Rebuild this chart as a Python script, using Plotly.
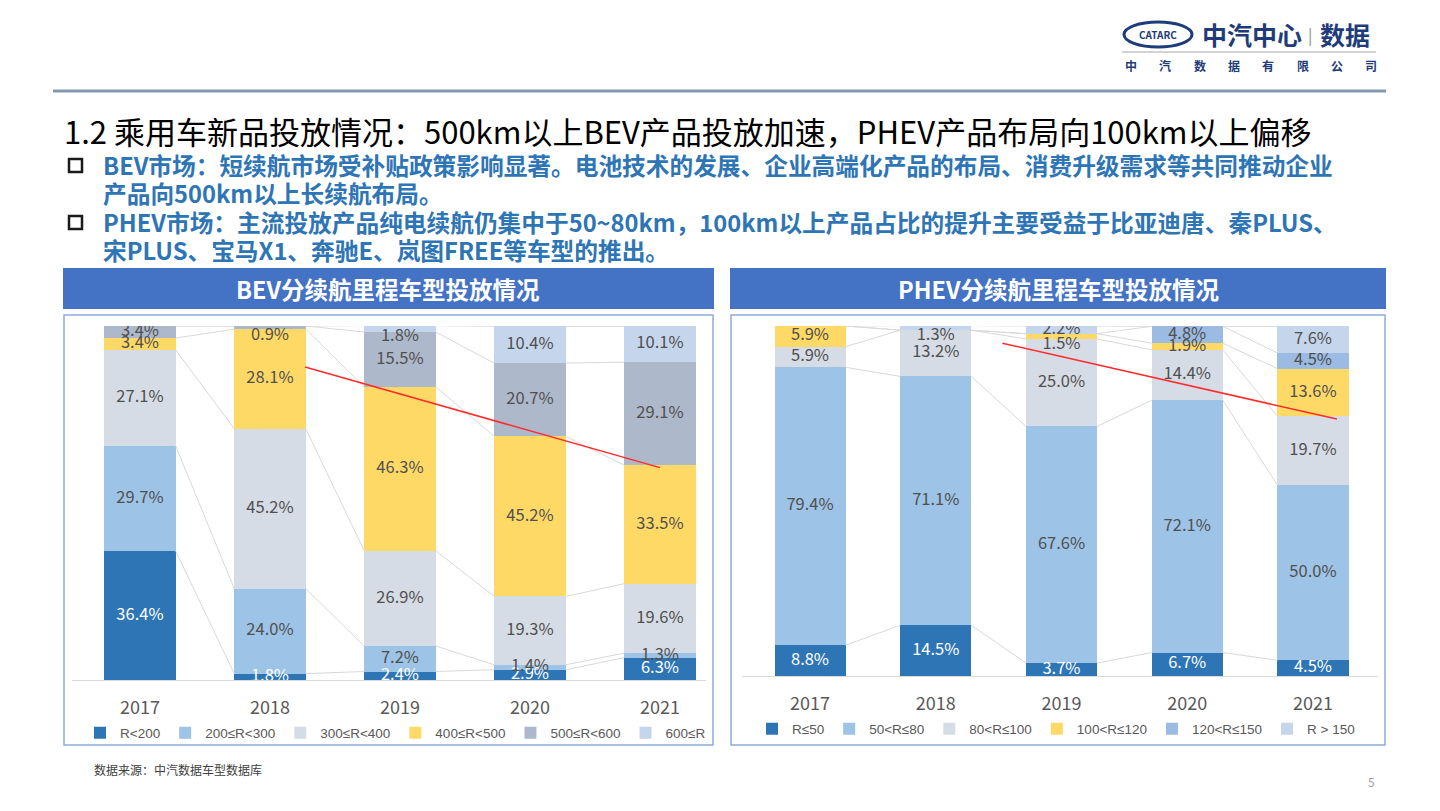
import plotly.graph_objects as go

W, H = 1440, 811

years = ["2017", "2018", "2019", "2020", "2021"]

bev_names = ["R<200", "200≤R<300", "300≤R<400", "400≤R<500", "500≤R<600", "600≤R"]
bev_r_lt200 = [36.4, 1.8, 2.4, 2.9, 6.3]
bev_r_200_300 = [29.7, 24.0, 7.2, 1.4, 1.3]
bev_r_300_400 = [27.1, 45.2, 26.9, 19.3, 19.6]
bev_r_400_500 = [3.4, 28.1, 46.3, 45.2, 33.5]
bev_r_500_600 = [3.4, 0.9, 15.5, 20.7, 29.1]
bev_r_ge600 = [0.0, 0.0, 1.8, 10.4, 10.1]
bev_values = [bev_r_lt200, bev_r_200_300, bev_r_300_400, bev_r_400_500, bev_r_500_600, bev_r_ge600]

phev_names = ["R≤50", "50<R≤80", "80<R≤100", "100<R≤120", "120<R≤150", "R > 150"]
phev_r_le50 = [8.8, 14.5, 3.7, 6.7, 4.5]
phev_r_50_80 = [79.4, 71.1, 67.6, 72.1, 50.0]
phev_r_80_100 = [5.9, 13.2, 25.0, 14.4, 19.7]
phev_r_100_120 = [5.9, 0.0, 1.5, 1.9, 13.6]
phev_r_120_150 = [0.0, 0.0, 0.0, 4.8, 4.5]
phev_r_gt150 = [0.0, 1.3, 2.2, 0.0, 7.6]
phev_values = [phev_r_le50, phev_r_50_80, phev_r_80_100, phev_r_100_120, phev_r_120_150, phev_r_gt150]

# red trend annotation lines (category index, percent)
bev_trend_x = [1.27, 4.0]
bev_trend_y = [88.4, 60.0]
phev_trend_x = [1.53, 4.19]
phev_trend_y = [95.1, 73.4]

bev_colors = ["#2e75b6", "#9dc3e6", "#d6dce5", "#ffd966", "#adb9ca", "#c5d5ec"]
phev_colors = ["#2e75b6", "#9dc3e6", "#d6dce5", "#ffd966", "#9bbbe3", "#c5d5ec"]
label_colors = ["#ffffff", "#505050", "#505050", "#505050", "#505050", "#505050"]

# labels that sit just below their thin segment (series index, year index)
bev_nudged = {(4, 1), (5, 2)}
phev_nudged = {(5, 1), (3, 2)}

FONT = "Noto Sans CJK SC"
LEGEND_FONT = "Liberation Sans, Noto Sans CJK SC"


def px(x):
    return x / W


def py(y):
    return 1 - y / H


fig = go.Figure()


def add_chart(values, names, colors, xa, ya, legend, width, nudged):
    idx = list(range(len(years)))
    cum = [0.0] * len(years)
    tops = []
    lx, ly, lt, lc, lp = [], [], [], [], []
    for j, vals in enumerate(values):
        fig.add_trace(go.Bar(
            x=idx, y=vals, base=cum[:], width=width, name=names[j],
            marker=dict(color=colors[j], line=dict(width=0)),
            xaxis=xa, yaxis=ya, legend=legend, hoverinfo="skip"))
        for i, v in enumerate(vals):
            if v > 0:
                lx.append(i)
                ly.append(cum[i] + v / 2)
                lt.append(f"{v:.1f}%")
                lc.append(label_colors[j])
                lp.append("bottom center" if (j, i) in nudged else "middle center")
        cum = [c + v for c, v in zip(cum, vals)]
        tops.append(cum[:])
    # series lines between bars
    sx, sy = [], []
    for t in tops:
        for i in range(len(years) - 1):
            sx += [i + width / 2, i + 1 - width / 2, None]
            sy += [t[i], t[i + 1], None]
    fig.add_trace(go.Scatter(x=sx, y=sy, mode="lines", line=dict(color="#d9d9d9", width=1),
                             xaxis=xa, yaxis=ya, showlegend=False, hoverinfo="skip"))
    fig.add_trace(go.Scatter(x=lx, y=ly, mode="text", text=lt, textposition=lp,
                             textfont=dict(family=FONT, size=16.5, color=lc),
                             xaxis=xa, yaxis=ya, showlegend=False, hoverinfo="skip"))


add_chart(bev_values, bev_names, bev_colors, "x", "y", "legend", 0.55, bev_nudged)
add_chart(phev_values, phev_names, phev_colors, "x2", "y2", "legend2", 0.565, phev_nudged)

# trend lines
fig.add_trace(go.Scatter(x=bev_trend_x, y=bev_trend_y, mode="lines", line=dict(color="#ff2a2a", width=1.5),
                         xaxis="x", yaxis="y", showlegend=False, hoverinfo="skip"))
fig.add_trace(go.Scatter(x=phev_trend_x, y=phev_trend_y, mode="lines", line=dict(color="#ff2a2a", width=1.5),
                         xaxis="x2", yaxis="y2", showlegend=False, hoverinfo="skip"))

xcommon = dict(tickmode="array", tickvals=list(range(5)), ticktext=years, showgrid=False, zeroline=False,
               showline=True, linecolor="#d9d9d9", linewidth=1, ticks="outside", ticklen=11,
               tickcolor="rgba(0,0,0,0)", tickfont=dict(family=FONT, size=18, color="#595959"),
               fixedrange=True)
ycommon = dict(visible=False, range=[0, 100], fixedrange=True)

legend_common = dict(orientation="h", font=dict(family=LEGEND_FONT, size=13.5, color="#595959"),
                     bgcolor="rgba(0,0,0,0)", yanchor="middle", xanchor="left", itemwidth=30,
                     traceorder="normal", itemclick=False, itemdoubleclick=False)

shapes = [
    dict(type="line", xref="paper", yref="paper", x0=px(53), x1=px(1386), y0=py(91), y1=py(91),
         line=dict(color="#8497b0", width=3)),
    dict(type="rect", xref="paper", yref="paper", x0=px(63), x1=px(714), y0=py(309), y1=py(268),
         fillcolor="#4472c4", line=dict(width=0), layer="below"),
    dict(type="rect", xref="paper", yref="paper", x0=px(730), x1=px(1386), y0=py(309), y1=py(268),
         fillcolor="#4472c4", line=dict(width=0), layer="below"),
    dict(type="rect", xref="paper", yref="paper", x0=px(64), x1=px(713), y0=py(745), y1=py(315),
         line=dict(color="#8faadc", width=1.5), layer="below"),
    dict(type="rect", xref="paper", yref="paper", x0=px(731), x1=px(1385), y0=py(745), y1=py(315),
         line=dict(color="#8faadc", width=1.5), layer="below"),
    # bullet squares
    dict(type="rect", xref="paper", yref="paper", x0=px(69), x1=px(82), y0=py(172), y1=py(159),
         line=dict(color="#1a1a1a", width=2.5)),
    dict(type="rect", xref="paper", yref="paper", x0=px(69), x1=px(82), y0=py(229), y1=py(216),
         line=dict(color="#1a1a1a", width=2.5)),
    # logo
    dict(type="circle", xref="paper", yref="paper", x0=px(1124), x1=px(1192), y0=py(47), y1=py(22),
         line=dict(color="#1f3c7a", width=3)),
    dict(type="line", xref="paper", yref="paper", x0=px(1122), x1=px(1376), y0=py(52), y1=py(52),
         line=dict(color="#a6a6a6", width=1)),
]

NAVY = "#1f3c7a"
BLUE = "#2e75b6"
ann = []


def text(x, y, s, size, color, anchor="left", bold=False):
    ann.append(dict(x=px(x), y=py(y), xref="paper", yref="paper", text=(f"<b>{s}</b>" if bold else s),
                    showarrow=False, xanchor=anchor, yanchor="middle",
                    font=dict(family=FONT, size=size, color=color)))


text(62, 130, "1.2 乘用车新品投放情况：500km以上BEV产品投放加速，PHEV产品布局向100km以上偏移", 31, "#000000")
text(101, 165, "BEV市场：短续航市场受补贴政策影响显著。电池技术的发展、企业高端化产品的布局、消费升级需求等共同推动企业", 23.7, BLUE, bold=True)
text(101, 193, "产品向500km以上长续航布局。", 23.7, BLUE, bold=True)
text(101, 222, "PHEV市场：主流投放产品纯电续航仍集中于50~80km，100km以上产品占比的提升主要受益于比亚迪唐、秦PLUS、", 23.7, BLUE, bold=True)
text(101, 250, "宋PLUS、宝马X1、奔驰E、岚图FREE等车型的推出。", 23.7, BLUE, bold=True)
text(388, 289, "BEV分续航里程车型投放情况", 23.5, "#ffffff", anchor="center", bold=True)
text(1058, 289, "PHEV分续航里程车型投放情况", 23.5, "#ffffff", anchor="center", bold=True)
text(92, 769, "数据来源：中汽数据车型数据库", 12, "#404040")
text(1371, 781, "5", 12, "#a0a0a0", anchor="center")
# logo
text(1158, 35, "CATARC", 10, NAVY, anchor="center", bold=True)
text(1200, 34, "中汽中心", 25, NAVY, bold=True)
text(1310, 34, "|", 16, "#8c8c8c", anchor="center")
text(1318, 34, "数据", 25, NAVY, bold=True)
for k, ch in enumerate("中汽数据有限公司"):
    text(1131 + k * 34.3, 66, ch, 12, NAVY, anchor="center", bold=True)

fig.update_layout(
    width=W, height=H, margin=dict(l=0, r=0, t=0, b=0),
    paper_bgcolor="#ffffff", plot_bgcolor="rgba(0,0,0,0)",
    barmode="overlay", bargap=0,
    font=dict(family=FONT, color="#595959"),
    xaxis=dict(domain=[px(72), px(706)], range=[-0.523, 4.354], anchor="y", **xcommon),
    yaxis=dict(domain=[py(680), py(326)], anchor="x", **ycommon),
    xaxis2=dict(domain=[px(742), px(1378)], range=[-0.541, 4.517], anchor="y2", **xcommon),
    yaxis2=dict(domain=[py(676), py(326)], anchor="x2", **ycommon),
    legend=dict(x=px(80), y=py(733), **legend_common),
    legend2=dict(x=px(752), y=py(729), **legend_common),
    shapes=shapes, annotations=ann, showlegend=True,
)

fig.write_html("out.html")
